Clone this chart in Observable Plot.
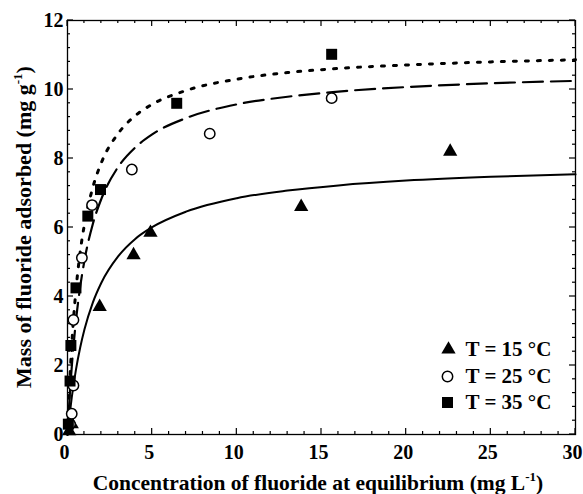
<!DOCTYPE html>
<html><head><meta charset="utf-8">
<script src="https://cdn.jsdelivr.net/npm/d3@7"></script>
<script src="https://cdn.jsdelivr.net/npm/@observablehq/plot@0.6"></script>
<style>
body{margin:0;background:#fff}
#chart{position:relative;width:583px;height:494px}
</style>
</head><body><div id="chart"></div>
<script>
const t15C = [0.1, 0.25, 1.9, 3.9, 4.9, 13.8, 22.6];
const t15Q = [0.1, 0.3, 3.7, 5.2, 5.85, 6.6, 8.2];
const t25C = [0.15, 0.25, 0.35, 0.35, 0.85, 1.45, 3.8, 8.4, 15.6];
const t25Q = [0.3, 0.6, 1.42, 3.32, 5.12, 6.65, 7.68, 8.72, 9.75];
const t35C = [0.05, 0.15, 0.2, 0.5, 1.2, 1.95, 6.45, 15.6];
const t35Q = [0.3, 1.55, 2.58, 4.25, 6.33, 7.1, 9.6, 11.02];

// Fitted curves
const curveC   = [0, 0.1, 0.25, 0.5, 0.75, 1, 1.5, 2, 3, 4, 5, 7, 10, 13, 16, 20, 25, 30];
const fit15Q   = [0, 0.46, 1.07, 1.88, 2.52, 3.04, 3.83, 4.40, 5.17, 5.67, 6.01, 6.46, 6.85, 7.07, 7.22, 7.36, 7.47, 7.54];
const fit25Q   = [0, 0.88, 1.95, 3.30, 4.28, 5.04, 6.11, 6.83, 7.76, 8.32, 8.70, 9.17, 9.57, 9.79, 9.94, 10.07, 10.18, 10.25];
const fit35Q   = [0, 1.20, 2.58, 4.19, 5.29, 6.09, 7.17, 7.88, 8.73, 9.24, 9.57, 9.97, 10.30, 10.49, 10.61, 10.71, 10.80, 10.86];

const legendLabels = ["T = 15 °C", "T = 25 °C", "T = 35 °C"];
const xTicks = [0, 5, 10, 15, 20, 25, 30];
const xMinor = d3.range(0, 31, 1).filter(v => v % 5 !== 0);
const yTicks = [0, 2, 4, 6, 8, 10, 12];
const yMinor = d3.range(0, 12.01, 0.4).map(v => +v.toFixed(1)).filter(v => Math.abs(v / 2 - Math.round(v / 2)) > 1e-6);

const pts = (C, Q) => C.map((c, i) => ({c, q: Q[i]}));
const d15 = pts(t15C, t15Q), d25 = pts(t25C, t25Q), d35 = pts(t35C, t35Q);
const f15 = pts(curveC, fit15Q), f25 = pts(curveC, fit25Q), f35 = pts(curveC, fit35Q);

const font = "'Liberation Serif', 'Times New Roman', serif";
const W = 583, H = 494, mL = 67, mR = 8, mT = 20, mB = 60;

const plot = Plot.plot({
  width: W, height: H,
  marginLeft: mL, marginRight: mR, marginTop: mT, marginBottom: mB,
  x: {domain: [0, 30]},
  y: {domain: [0, 12]},
  style: {fontFamily: font, fontSize: "20px", fontWeight: "bold", color: "black", background: "white"},
  marks: [
    Plot.axisX(xTicks, {anchor: "bottom", tickSize: 0, tickPadding: 10, dx: -3, label: null}),
    Plot.axisY(yTicks, {anchor: "left", tickSize: 0, tickPadding: 4, label: null}),
    Plot.frame({stroke: "black", strokeWidth: 1.3}),
    // fitted curves
    Plot.line(f15, {x: "c", y: "q", curve: "monotone-x", stroke: "black", strokeWidth: 2}),
    Plot.line(f25, {x: "c", y: "q", curve: "monotone-x", stroke: "black", strokeWidth: 2.2, strokeDasharray: "20,8"}),
    Plot.line(f35, {x: "c", y: "q", curve: "monotone-x", stroke: "black", strokeWidth: 3, strokeDasharray: "3,9"}),
    // points
    Plot.dot(d15, {x: "c", y: "q", symbol: "triangle", r: 5.3, fill: "black", stroke: "none"}),
    Plot.dot(d25, {x: "c", y: "q", symbol: "circle", r: 5.2, fill: "white", stroke: "black", strokeWidth: 1.5}),
    Plot.dot(d35, {x: "c", y: "q", symbol: "square", r: 6.2, fill: "black", stroke: "none"}),
    // legend
    Plot.dot([legendLabels[0]], {frameAnchor: "bottom-right", dx: -127, dy: -85, symbol: "triangle", r: 5.3, fill: "black", stroke: "none"}),
    Plot.dot([legendLabels[1]], {frameAnchor: "bottom-right", dx: -128, dy: -58, symbol: "circle", r: 5.2, fill: "white", stroke: "black", strokeWidth: 1.5}),
    Plot.dot([legendLabels[2]], {frameAnchor: "bottom-right", dx: -128, dy: -32, symbol: "square", r: 6.2, fill: "black", stroke: "none"}),
    Plot.text([legendLabels[0]], {text: d => d, frameAnchor: "bottom-right", dx: -110, dy: -85, textAnchor: "start", lineAnchor: "middle", fontSize: 21, fontWeight: "bold"}),
    Plot.text([legendLabels[1]], {text: d => d, frameAnchor: "bottom-right", dx: -110, dy: -58, textAnchor: "start", lineAnchor: "middle", fontSize: 21, fontWeight: "bold"}),
    Plot.text([legendLabels[2]], {text: d => d, frameAnchor: "bottom-right", dx: -110, dy: -32, textAnchor: "start", lineAnchor: "middle", fontSize: 21, fontWeight: "bold"})
  ]
});

const svg = d3.select(plot);
const sx = plot.scale("x"), sy = plot.scale("y");
const yTop = mT, yBottom = H - mB, xLeft = mL, xRight = W - mR;
const ticksG = svg.append("g").attr("stroke", "black").attr("stroke-width", 1.2);
function xTick(v, len) {
  const px = sx.apply(v);
  ticksG.append("line").attr("x1", px).attr("x2", px).attr("y1", yBottom).attr("y2", yBottom - len);
  ticksG.append("line").attr("x1", px).attr("x2", px).attr("y1", yTop).attr("y2", yTop + len);
}
function yTick(v, len) {
  const py = sy.apply(v);
  ticksG.append("line").attr("y1", py).attr("y2", py).attr("x1", xLeft).attr("x2", xLeft + len);
  ticksG.append("line").attr("y1", py).attr("y2", py).attr("x1", xRight).attr("x2", xRight - len);
}
xTicks.forEach(v => xTick(v, 6));
xMinor.forEach(v => xTick(v, 3));
yTicks.forEach(v => yTick(v, 6));
yMinor.forEach(v => yTick(v, 3));

// x axis title with superscript
const xt = svg.append("text")
  .attr("x", 318).attr("y", 490)
  .attr("text-anchor", "middle")
  .attr("font-family", font).attr("font-size", 21.5).attr("font-weight", "bold").attr("fill", "black");
xt.append("tspan").text("Concentration of fluoride at equilibrium (mg L");
xt.append("tspan").attr("font-size", 13).attr("dy", -9).text("-1");
xt.append("tspan").attr("dy", 9).text(")");
// y axis title
const yt = svg.append("text")
  .attr("transform", "translate(31,227) rotate(-90)")
  .attr("text-anchor", "middle")
  .attr("font-family", font).attr("font-size", 22).attr("font-weight", "bold").attr("fill", "black");
yt.append("tspan").text("Mass of fluoride adsorbed (mg g");
yt.append("tspan").attr("font-size", 13).attr("dy", -9).text("-1");
yt.append("tspan").attr("dy", 9).text(")");

document.getElementById("chart").appendChild(plot);
</script>
</body></html>
